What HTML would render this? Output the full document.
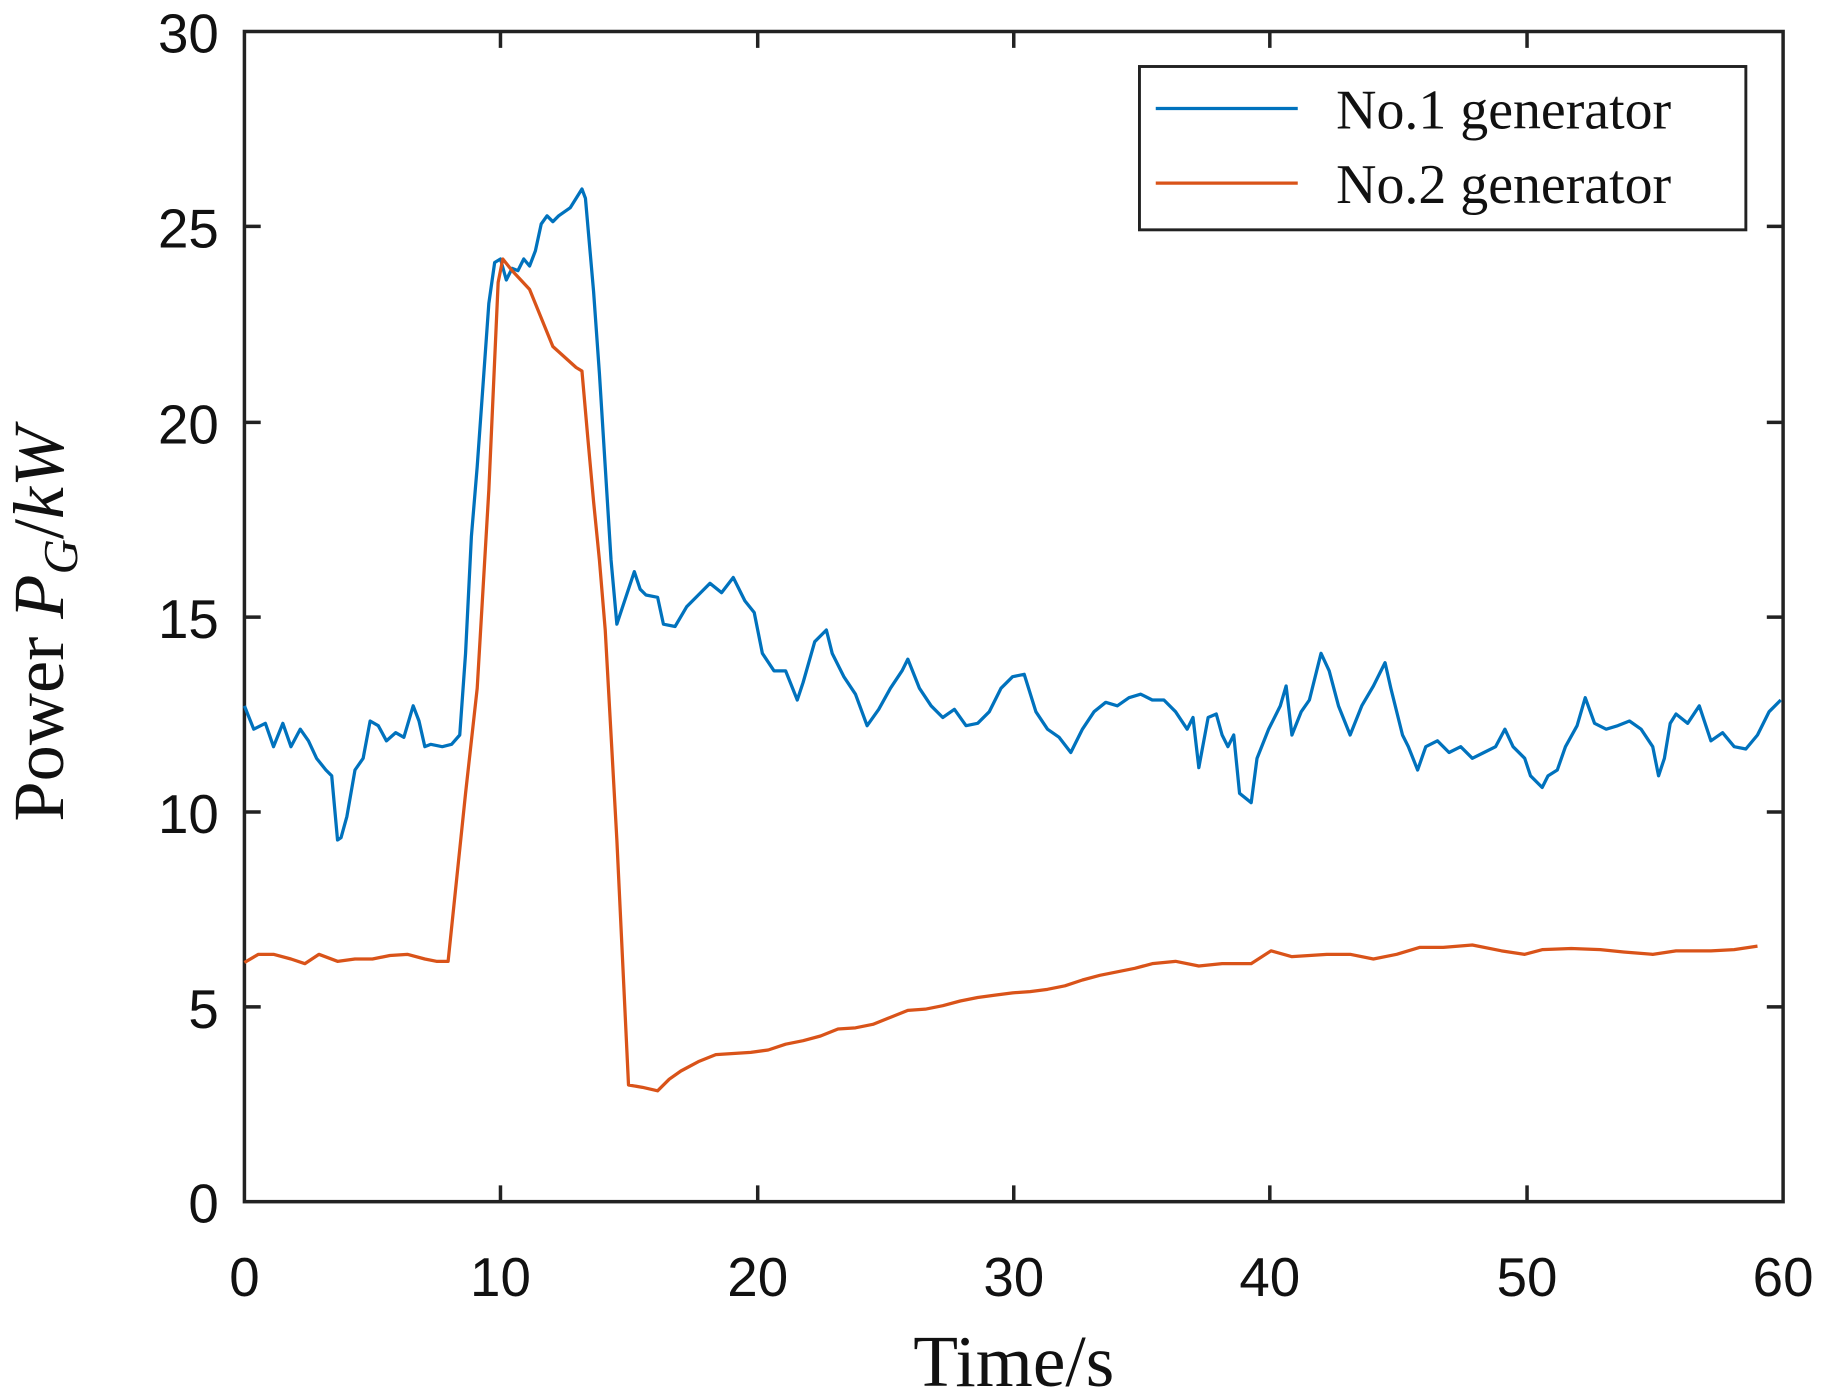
<!DOCTYPE html>
<html><head><meta charset="utf-8"><style>html,body{margin:0;padding:0;background:#fff}svg{display:block}</style></head>
<body>
<svg width="1825" height="1400" viewBox="0 0 1568 1200" preserveAspectRatio="none" xmlns="http://www.w3.org/2000/svg">
<rect width="1568" height="1200" fill="#fff"/>
<g stroke="#222" stroke-width="3" fill="none">
<rect x="210" y="27" width="1322" height="1003"/>
<path d="M210,863h14M210,696h14M210,529h14M210,362h14M210,194h14M1532,863h-14M1532,696h-14M1532,529h-14M1532,362h-14M1532,194h-14
M430,1030v-14M651,1030v-14M871,1030v-14M1091,1030v-14M1312,1030v-14M430,27v14M651,27v14M871,27v14M1091,27v14M1312,27v14"/>
</g>
<g font-family="Liberation Sans, sans-serif" font-size="47" fill="#111" text-anchor="end">
<text x="188" y="1048">0</text><text x="188" y="881">5</text><text x="188" y="714">10</text><text x="188" y="547">15</text><text x="188" y="380">20</text><text x="188" y="212">25</text><text x="188" y="45">30</text>
</g>
<g font-family="Liberation Sans, sans-serif" font-size="47" fill="#111" text-anchor="middle">
<text x="210" y="1111">0</text><text x="430" y="1111">10</text><text x="651" y="1111">20</text><text x="871" y="1111">30</text><text x="1091" y="1111">40</text><text x="1312" y="1111">50</text><text x="1532" y="1111">60</text>
</g>
<text x="871" y="1188" font-family="Liberation Serif, serif" font-size="63" text-anchor="middle" fill="#111">Time/s</text>
<text transform="translate(54,535) rotate(-90)" font-family="Liberation Serif, serif" font-size="62" text-anchor="middle" fill="#111">Power <tspan font-style="italic">P</tspan><tspan font-style="italic" font-size="42" dy="12">G</tspan><tspan dy="-12">/</tspan><tspan font-style="italic">kW</tspan></text>
<polyline fill="none" stroke="#0072BD" stroke-width="2.8" stroke-linejoin="round" points="210,605 218,625 228,620 235,640 243,620 250,640 258,625 265,635 272,650 280,660 285,665 290,720 293,718 298,700 305,660 312,650 318,618 325,622 332,635 340,628 347,632 355,605 360,618 365,640 370,638 380,640 388,638 395,630 400,560 405,460 410,400 415,330 420,260 425,225 430,222 435,240 440,230 445,232 450,222 455,228 460,215 465,192 470,185 475,190 480,185 490,178 500,162 503,170 510,250 515,320 520,400 525,480 530,535 535,520 540,505 545,490 550,505 555,510 565,512 570,535 580,537 590,520 600,510 610,500 620,508 630,495 640,515 648,525 655,560 665,575 675,575 685,600 690,585 700,550 710,540 715,560 725,580 735,595 745,622 755,608 765,590 775,575 780,565 790,590 800,605 810,615 820,608 830,622 840,620 850,610 860,590 870,580 880,578 890,610 900,625 910,632 920,645 930,625 940,610 950,602 960,605 970,598 980,595 990,600 1000,600 1010,610 1020,625 1025,615 1030,658 1038,615 1045,612 1050,630 1055,640 1060,630 1065,680 1075,688 1080,650 1090,625 1100,605 1105,588 1110,630 1118,610 1125,600 1135,560 1142,575 1150,605 1160,630 1170,605 1180,588 1190,568 1195,590 1205,630 1210,640 1218,660 1225,640 1235,635 1245,645 1255,640 1265,650 1275,645 1285,640 1293,625 1300,640 1310,650 1315,665 1325,675 1330,665 1338,660 1345,640 1355,622 1362,598 1370,620 1380,625 1390,622 1400,618 1410,625 1420,640 1425,665 1430,650 1435,620 1440,612 1450,620 1460,605 1470,635 1480,628 1490,640 1500,642 1510,630 1520,610 1530,600"/>
<polyline fill="none" stroke="#D95319" stroke-width="2.8" stroke-linejoin="round" points="210,825 222,818 235,818 250,822 262,826 274,818 290,824 305,822 320,822 335,819 350,818 365,822 375,824 385,824 400,680 410,590 420,420 428,242 432,222 440,232 455,248 475,297 495,315 500,318 505,375 510,430 515,480 520,540 530,720 540,930 552,932 565,935 575,925 585,918 600,910 615,904 630,903 645,902 660,900 675,895 690,892 705,888 720,882 735,881 750,878 765,872 780,866 795,865 810,862 825,858 840,855 855,853 870,851 885,850 900,848 915,845 930,840 945,836 960,833 975,830 990,826 1010,824 1030,828 1050,826 1075,826 1092,815 1110,820 1140,818 1160,818 1180,822 1200,818 1220,812 1240,812 1265,810 1290,815 1310,818 1325,814 1350,813 1375,814 1395,816 1420,818 1440,815 1470,815 1490,814 1510,811"/>
<rect x="979" y="57" width="521" height="140" fill="#fff" stroke="#222" stroke-width="2.5"/>
<line x1="993" y1="93" x2="1115" y2="93" stroke="#0072BD" stroke-width="2.8"/>
<line x1="993" y1="157" x2="1115" y2="157" stroke="#D95319" stroke-width="2.8"/>
<g font-family="Liberation Serif, serif" font-size="48" fill="#111">
<text x="1148" y="110">No.1 generator</text><text x="1148" y="174">No.2 generator</text>
</g>
</svg>
</body></html>
